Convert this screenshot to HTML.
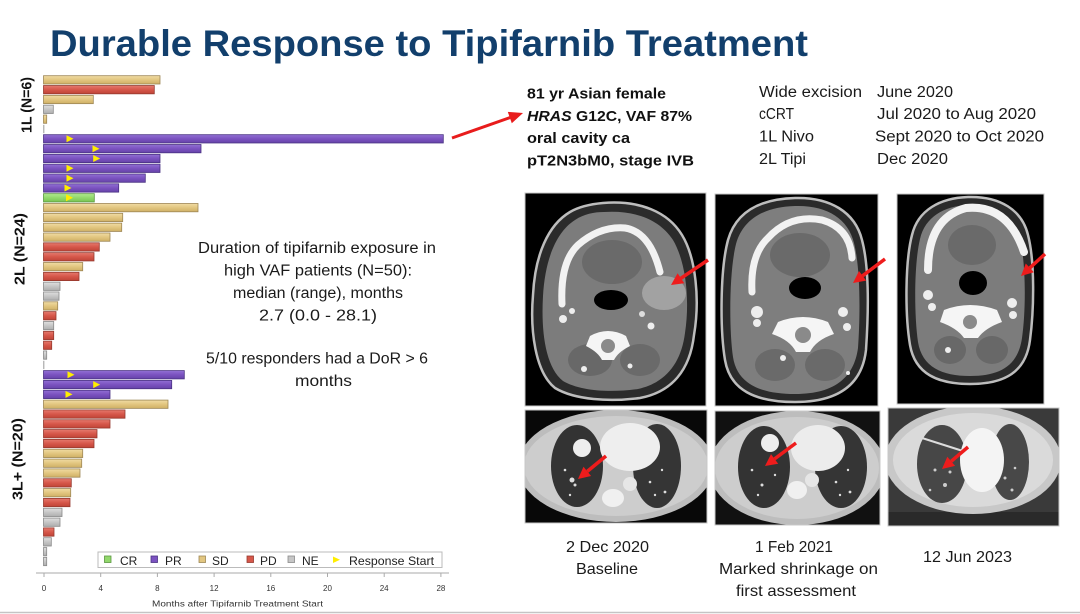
<!DOCTYPE html>
<html><head><meta charset="utf-8">
<style>
html,body{margin:0;padding:0;background:#fff;}
body{width:1080px;height:614px;overflow:hidden;}
svg{display:block;font-family:"Liberation Sans",Arial,sans-serif;}
.sd{fill:url(#gsd);stroke:#9e8756;stroke-width:0.8}
.pd{fill:url(#gpd);stroke:#963a2f;stroke-width:0.8}
.pr{fill:url(#gpr);stroke:#4a3283;stroke-width:0.8}
.ne{fill:url(#gne);stroke:#8a8a8a;stroke-width:0.8}
.cr{fill:url(#gcr);stroke:#5b9640;stroke-width:0.8}
.tri{fill:#ffee00}
.ax{font-size:8px;fill:#333}
.mid{font-size:15.5px;fill:#1a1a1a}
.cap{font-size:16px;fill:#1a1a1a}
</style></head>
<body>
<svg width="1080" height="614" viewBox="0 0 1080 614" xmlns="http://www.w3.org/2000/svg">
<defs>
<linearGradient id="gsd" x1="0" y1="0" x2="0" y2="1"><stop offset="0" stop-color="#f0dca4"/><stop offset="0.5" stop-color="#e2c680"/><stop offset="1" stop-color="#cfb065"/></linearGradient>
<linearGradient id="gpd" x1="0" y1="0" x2="0" y2="1"><stop offset="0" stop-color="#e57a6e"/><stop offset="0.5" stop-color="#d6574a"/><stop offset="1" stop-color="#bf4437"/></linearGradient>
<linearGradient id="gpr" x1="0" y1="0" x2="0" y2="1"><stop offset="0" stop-color="#9270d4"/><stop offset="0.5" stop-color="#7b52c0"/><stop offset="1" stop-color="#6643a9"/></linearGradient>
<linearGradient id="gne" x1="0" y1="0" x2="0" y2="1"><stop offset="0" stop-color="#e0e0e0"/><stop offset="0.5" stop-color="#c6c6c6"/><stop offset="1" stop-color="#aeaeae"/></linearGradient>
<linearGradient id="gcr" x1="0" y1="0" x2="0" y2="1"><stop offset="0" stop-color="#b0ea8e"/><stop offset="0.5" stop-color="#92d86c"/><stop offset="1" stop-color="#78c452"/></linearGradient>
<clipPath id="ch1"><rect x="525" y="193" width="181" height="213"/></clipPath>
<clipPath id="ch2"><rect x="715" y="194" width="163" height="212"/></clipPath>
<clipPath id="ch3"><rect x="897" y="194" width="147" height="210"/></clipPath>
<clipPath id="cl1"><rect x="525" y="410" width="182" height="113"/></clipPath>
<clipPath id="cl2"><rect x="715" y="411" width="165" height="114"/></clipPath>
<clipPath id="cl3"><rect x="888" y="408" width="171" height="118"/></clipPath>
</defs>

<!-- Title -->
<text x="50" y="56" font-size="37" font-weight="bold" fill="#123f6c" textLength="758" lengthAdjust="spacingAndGlyphs">Durable Response to Tipifarnib Treatment</text>

<!-- Group labels -->
<text transform="translate(27,105) rotate(-90)" text-anchor="middle" dominant-baseline="central" font-size="15" font-weight="bold" fill="#111" textLength="56" lengthAdjust="spacingAndGlyphs">1L (N=6)</text>
<text transform="translate(20,249) rotate(-90)" text-anchor="middle" dominant-baseline="central" font-size="15" font-weight="bold" fill="#111" textLength="72" lengthAdjust="spacingAndGlyphs">2L (N=24)</text>
<text transform="translate(18,459) rotate(-90)" text-anchor="middle" dominant-baseline="central" font-size="15" font-weight="bold" fill="#111" textLength="82" lengthAdjust="spacingAndGlyphs">3L+ (N=20)</text>

<!-- Bars -->
<rect class="sd" x="43.5" y="75.7" width="116.5" height="8.3"/>
<rect class="pd" x="43.5" y="85.53" width="110.8" height="8.3"/>
<rect class="sd" x="43.5" y="95.36" width="49.8" height="8.3"/>
<rect class="ne" x="43.5" y="105.19" width="9.8" height="8.3"/>
<rect class="sd" x="43.5" y="115.02" width="3.2" height="8.3"/>
<line x1="43.8" y1="124.85" x2="43.8" y2="133.15" stroke="#999" stroke-width="1"/>
<rect class="pr" x="43.5" y="134.68" width="399.8" height="8.3"/>
<rect class="pr" x="43.5" y="144.51" width="157.5" height="8.3"/>
<rect class="pr" x="43.5" y="154.34" width="116.5" height="8.3"/>
<rect class="pr" x="43.5" y="164.17" width="116.5" height="8.3"/>
<rect class="pr" x="43.5" y="174.0" width="101.8" height="8.3"/>
<rect class="pr" x="43.5" y="183.83" width="75.2" height="8.3"/>
<rect class="cr" x="43.5" y="193.66" width="50.8" height="8.3"/>
<rect class="sd" x="43.5" y="203.49" width="154.5" height="8.3"/>
<rect class="sd" x="43.5" y="213.32" width="79.2" height="8.3"/>
<rect class="sd" x="43.5" y="223.15" width="78.2" height="8.3"/>
<rect class="sd" x="43.5" y="232.98" width="66.5" height="8.3"/>
<rect class="pd" x="43.5" y="242.81" width="55.8" height="8.3"/>
<rect class="pd" x="43.5" y="252.64" width="50.5" height="8.3"/>
<rect class="sd" x="43.5" y="262.47" width="39.2" height="8.3"/>
<rect class="pd" x="43.5" y="272.3" width="35.5" height="8.3"/>
<rect class="ne" x="43.5" y="282.13" width="16.5" height="8.3"/>
<rect class="ne" x="43.5" y="291.96" width="15.5" height="8.3"/>
<rect class="sd" x="43.5" y="301.79" width="14.2" height="8.3"/>
<rect class="pd" x="43.5" y="311.62" width="12.5" height="8.3"/>
<rect class="ne" x="43.5" y="321.45" width="10.2" height="8.3"/>
<rect class="pd" x="43.5" y="331.28" width="10.2" height="8.3"/>
<rect class="pd" x="43.5" y="341.11" width="8.2" height="8.3"/>
<rect class="ne" x="43.5" y="350.94" width="3.2" height="8.3"/>
<line x1="43.8" y1="360.77" x2="43.8" y2="369.07" stroke="#999" stroke-width="1"/>
<rect class="pr" x="43.5" y="370.6" width="140.8" height="8.3"/>
<rect class="pr" x="43.5" y="380.43" width="128.2" height="8.3"/>
<rect class="pr" x="43.5" y="390.26" width="66.5" height="8.3"/>
<rect class="sd" x="43.5" y="400.09" width="124.5" height="8.3"/>
<rect class="pd" x="43.5" y="409.92" width="81.5" height="8.3"/>
<rect class="pd" x="43.5" y="419.75" width="66.5" height="8.3"/>
<rect class="pd" x="43.5" y="429.58" width="53.5" height="8.3"/>
<rect class="pd" x="43.5" y="439.41" width="50.5" height="8.3"/>
<rect class="sd" x="43.5" y="449.24" width="39.2" height="8.3"/>
<rect class="sd" x="43.5" y="459.07" width="38.2" height="8.3"/>
<rect class="sd" x="43.5" y="468.9" width="36.5" height="8.3"/>
<rect class="pd" x="43.5" y="478.73" width="27.8" height="8.3"/>
<rect class="sd" x="43.5" y="488.56" width="27.2" height="8.3"/>
<rect class="pd" x="43.5" y="498.39" width="26.5" height="8.3"/>
<rect class="ne" x="43.5" y="508.22" width="18.5" height="8.3"/>
<rect class="ne" x="43.5" y="518.05" width="16.5" height="8.3"/>
<rect class="pd" x="43.5" y="527.88" width="10.5" height="8.3"/>
<rect class="ne" x="43.5" y="537.71" width="7.8" height="8.3"/>
<rect class="ne" x="43.5" y="547.54" width="3.2" height="8.3"/>
<rect class="ne" x="43.5" y="557.37" width="3.2" height="8.3"/>

<!-- Response start triangles -->
<polygon class="tri" points="66.5,135.3 73.5,138.8 66.5,142.3"/>
<polygon class="tri" points="92.5,145.2 99.5,148.7 92.5,152.2"/>
<polygon class="tri" points="93.2,155.0 100.2,158.5 93.2,162.0"/>
<polygon class="tri" points="66.5,164.8 73.5,168.3 66.5,171.8"/>
<polygon class="tri" points="66.5,174.7 73.5,178.2 66.5,181.7"/>
<polygon class="tri" points="64.5,184.5 71.5,188.0 64.5,191.5"/>
<polygon class="tri" points="66.0,194.3 73.0,197.8 66.0,201.3"/>
<polygon class="tri" points="67.5,371.3 74.5,374.8 67.5,378.3"/>
<polygon class="tri" points="93.2,381.1 100.2,384.6 93.2,388.1"/>
<polygon class="tri" points="65.5,390.9 72.5,394.4 65.5,397.9"/>

<!-- Legend -->
<rect x="98" y="552" width="344" height="15.5" fill="#fff" stroke="#bbb" stroke-width="1"/>
<rect x="104.5" y="556" width="6.5" height="6.5" fill="#92d86c" stroke="#5b9640" stroke-width="0.8"/>
<text x="120" y="565" font-size="12" fill="#222">CR</text>
<rect x="151" y="556" width="6.5" height="6.5" fill="#7b52c0" stroke="#4a3283" stroke-width="0.8"/>
<text x="165" y="565" font-size="12" fill="#222">PR</text>
<rect x="199" y="556" width="6.5" height="6.5" fill="#e2c680" stroke="#9e8756" stroke-width="0.8"/>
<text x="212" y="565" font-size="12" fill="#222">SD</text>
<rect x="247" y="556" width="6.5" height="6.5" fill="#d6574a" stroke="#963a2f" stroke-width="0.8"/>
<text x="260" y="565" font-size="12" fill="#222">PD</text>
<rect x="288" y="556" width="6.5" height="6.5" fill="#c6c6c6" stroke="#8a8a8a" stroke-width="0.8"/>
<text x="302" y="565" font-size="12" fill="#222">NE</text>
<polygon class="tri" points="333,556.5 340,559.8 333,563"/>
<text x="349" y="565" font-size="12" fill="#222" textLength="85" lengthAdjust="spacingAndGlyphs">Response Start</text>

<!-- X axis -->
<line x1="36" y1="573" x2="449" y2="573" stroke="#aaa" stroke-width="1"/>
<g stroke="#aaa" stroke-width="1">
<line x1="44" y1="573" x2="44" y2="577"/>
<line x1="100.7" y1="573" x2="100.7" y2="577"/>
<line x1="157.4" y1="573" x2="157.4" y2="577"/>
<line x1="214.1" y1="573" x2="214.1" y2="577"/>
<line x1="270.8" y1="573" x2="270.8" y2="577"/>
<line x1="327.5" y1="573" x2="327.5" y2="577"/>
<line x1="384.2" y1="573" x2="384.2" y2="577"/>
<line x1="440.9" y1="573" x2="440.9" y2="577"/>
</g>
<g class="ax" text-anchor="middle">
<text x="44" y="591">0</text>
<text x="100.7" y="591">4</text>
<text x="157.4" y="591">8</text>
<text x="214.1" y="591">12</text>
<text x="270.8" y="591">16</text>
<text x="327.5" y="591">20</text>
<text x="384.2" y="591">24</text>
<text x="440.9" y="591">28</text>
</g>
<text x="237.5" y="606.5" font-size="8.5" fill="#333" text-anchor="middle" textLength="171" lengthAdjust="spacingAndGlyphs">Months after Tipifarnib Treatment Start</text>

<!-- Middle text -->
<text class="mid" x="317" y="253" text-anchor="middle" textLength="238" lengthAdjust="spacingAndGlyphs">Duration of tipifarnib exposure in</text>
<text class="mid" x="318" y="275.5" text-anchor="middle" textLength="188" lengthAdjust="spacingAndGlyphs">high VAF patients (N=50):</text>
<text class="mid" x="318" y="298" text-anchor="middle" textLength="170" lengthAdjust="spacingAndGlyphs">median (range), months</text>
<text class="mid" x="318" y="320.5" text-anchor="middle" textLength="118" lengthAdjust="spacingAndGlyphs">2.7 (0.0 - 28.1)</text>
<text class="mid" x="317" y="363.5" text-anchor="middle" textLength="222" lengthAdjust="spacingAndGlyphs">5/10 responders had a DoR &gt; 6</text>
<text class="mid" x="323.5" y="386" text-anchor="middle" textLength="57" lengthAdjust="spacingAndGlyphs">months</text>

<!-- Red arrow from chart -->
<line x1="452" y1="138" x2="510" y2="117.6" stroke="#e81c1c" stroke-width="3"/>
<polygon points="523,113 511.8,123.3 507.8,111.9" fill="#e81c1c"/>

<!-- Patient info -->
<g font-size="15" font-weight="bold" fill="#111">
<text x="527" y="98.5" textLength="139" lengthAdjust="spacingAndGlyphs">81 yr Asian female</text>
<text x="527" y="121" textLength="165" lengthAdjust="spacingAndGlyphs"><tspan font-style="italic">HRAS</tspan> G12C, VAF 87%</text>
<text x="527" y="143" textLength="103" lengthAdjust="spacingAndGlyphs">oral cavity ca</text>
<text x="527" y="165.5" textLength="167" lengthAdjust="spacingAndGlyphs">pT2N3bM0, stage IVB</text>
</g>
<g font-size="15.5" fill="#1a1a1a">
<text x="759" y="97" textLength="103" lengthAdjust="spacingAndGlyphs">Wide excision</text>
<text x="759" y="119" textLength="35" lengthAdjust="spacingAndGlyphs">cCRT</text>
<text x="759" y="141.5" textLength="55" lengthAdjust="spacingAndGlyphs">1L Nivo</text>
<text x="759" y="164" textLength="47" lengthAdjust="spacingAndGlyphs">2L Tipi</text>
<text x="877" y="97" textLength="76" lengthAdjust="spacingAndGlyphs">June 2020</text>
<text x="877" y="119" textLength="159" lengthAdjust="spacingAndGlyphs">Jul 2020 to Aug 2020</text>
<text x="875" y="141.5" textLength="169" lengthAdjust="spacingAndGlyphs">Sept 2020 to Oct 2020</text>
<text x="877" y="164" textLength="71" lengthAdjust="spacingAndGlyphs">Dec 2020</text>
</g>

<!-- CT H1 -->
<g clip-path="url(#ch1)">
<rect x="525" y="193" width="181" height="213" fill="#000"/>
<path d="M603,203 C640,200 668,212 682,235 C696,258 700,300 694,335 C690,370 672,392 640,398 C610,402 575,400 555,388 C535,372 530,330 533,295 C535,255 548,225 570,212 C580,206 592,204 603,203 Z" fill="#2b2b2b" stroke="#bdbdbd" stroke-width="2.5"/>
<path d="M604,212 C636,210 660,220 673,240 C686,262 690,300 685,333 C681,364 665,383 638,389 C610,393 580,391 563,381 C545,367 541,330 543,296 C545,260 556,232 575,220 C584,214 594,212 604,212 Z" fill="#7c7c7c"/>
<ellipse cx="612" cy="262" rx="30" ry="22" fill="#6a6a6a"/>
<ellipse cx="664" cy="293" rx="22" ry="17" fill="#a2a2a2"/>
<ellipse cx="590" cy="360" rx="22" ry="16" fill="#686868"/>
<ellipse cx="640" cy="360" rx="20" ry="16" fill="#6a6a6a"/>
<path d="M562,304 Q560,262 578,245 Q600,226 625,228 Q650,232 660,272" fill="none" stroke="#f2f2f2" stroke-width="7" stroke-linecap="round"/>
<ellipse cx="611" cy="300" rx="17" ry="10" fill="#000"/>
<path d="M590,336 Q608,326 626,336 L630,346 Q618,352 614,360 L602,360 Q598,352 586,346 Z" fill="#f5f5f5"/>
<circle cx="608" cy="346" r="7" fill="#8a8a8a"/>
<circle cx="563" cy="319" r="4" fill="#eee"/>
<circle cx="572" cy="311" r="3" fill="#eee"/>
<circle cx="651" cy="326" r="3.5" fill="#eee"/>
<circle cx="642" cy="314" r="3" fill="#ddd"/>
<circle cx="584" cy="369" r="3" fill="#eee"/>
<circle cx="630" cy="366" r="2.5" fill="#eee"/>
</g>
<rect x="525" y="193" width="181" height="213" fill="none" stroke="#c8c8c8" stroke-width="1"/>

<!-- CT H2 -->
<g clip-path="url(#ch2)">
<rect x="715" y="194" width="163" height="212" fill="#000"/>
<path d="M795,198 C830,197 855,212 862,240 C870,270 868,320 866,350 C862,385 838,402 795,402 C755,402 730,390 725,360 C720,330 720,270 728,240 C736,212 760,199 795,198 Z" fill="#2b2b2b" stroke="#bdbdbd" stroke-width="2.5"/>
<path d="M795,206 C826,205 848,218 854,243 C861,271 860,320 858,348 C854,378 834,394 795,394 C759,394 737,383 733,357 C729,330 729,272 736,244 C743,219 764,207 795,206 Z" fill="#7e7e7e"/>
<ellipse cx="800" cy="255" rx="30" ry="22" fill="#6a6a6a"/>
<ellipse cx="775" cy="365" rx="20" ry="16" fill="#6a6a6a"/>
<ellipse cx="825" cy="365" rx="20" ry="16" fill="#6a6a6a"/>
<path d="M752,292 Q750,255 768,238 Q790,214 822,220 Q850,228 852,258" fill="none" stroke="#f2f2f2" stroke-width="7" stroke-linecap="round"/>
<ellipse cx="805" cy="288" rx="16" ry="11" fill="#000"/>
<path d="M778,322 Q803,312 828,322 L834,334 Q816,340 810,352 L796,352 Q790,340 772,334 Z" fill="#f5f5f5"/>
<circle cx="803" cy="335" r="8" fill="#8a8a8a"/>
<circle cx="757" cy="312" r="6" fill="#eee"/>
<circle cx="757" cy="323" r="4" fill="#eee"/>
<circle cx="843" cy="312" r="5" fill="#eee"/>
<circle cx="847" cy="327" r="4" fill="#eee"/>
<circle cx="783" cy="358" r="3" fill="#eee"/>
<circle cx="848" cy="373" r="2" fill="#eee"/>
</g>
<rect x="715" y="194" width="163" height="212" fill="none" stroke="#c8c8c8" stroke-width="1"/>

<!-- CT H3 -->
<g clip-path="url(#ch3)">
<rect x="897" y="194" width="147" height="210" fill="#000"/>
<path d="M968,197 C1000,196 1022,210 1028,235 C1035,262 1034,310 1030,340 C1026,372 1005,384 970,384 C938,384 915,374 910,345 C905,315 905,262 912,235 C918,210 940,198 968,197 Z" fill="#2b2b2b" stroke="#bdbdbd" stroke-width="2.5"/>
<path d="M968,205 C996,204 1015,217 1020,239 C1026,264 1026,310 1022,338 C1018,366 1000,376 970,376 C942,376 922,367 918,342 C914,314 914,264 920,239 C925,217 944,206 968,205 Z" fill="#7c7c7c"/>
<ellipse cx="972" cy="245" rx="24" ry="20" fill="#6a6a6a"/>
<ellipse cx="950" cy="350" rx="16" ry="14" fill="#686868"/>
<ellipse cx="992" cy="350" rx="16" ry="14" fill="#686868"/>
<path d="M928,270 Q928,218 966,208 Q1008,204 1024,252" fill="none" stroke="#f2f2f2" stroke-width="8" stroke-linecap="round"/>
<ellipse cx="973" cy="283" rx="14" ry="12" fill="#000"/>
<path d="M944,310 Q970,300 997,310 L1002,322 Q985,328 978,338 L964,338 Q957,328 940,322 Z" fill="#f5f5f5"/>
<circle cx="970" cy="322" r="7" fill="#8a8a8a"/>
<circle cx="928" cy="295" r="5" fill="#eee"/>
<circle cx="932" cy="307" r="4" fill="#eee"/>
<circle cx="1012" cy="303" r="5" fill="#eee"/>
<circle cx="1013" cy="315" r="4" fill="#eee"/>
<circle cx="948" cy="350" r="3" fill="#eee"/>
</g>
<rect x="897" y="194" width="147" height="210" fill="none" stroke="#c8c8c8" stroke-width="1"/>

<!-- CT L1 -->
<g clip-path="url(#cl1)">
<rect x="525" y="410" width="182" height="113" fill="#080808"/>
<ellipse cx="616" cy="466" rx="98" ry="56" fill="#bdbdbd"/>
<ellipse cx="616" cy="466" rx="92" ry="50" fill="#cdcdcd"/>
<ellipse cx="577" cy="466" rx="26" ry="41" fill="#333"/>
<ellipse cx="657" cy="466" rx="24" ry="42" fill="#353535"/>
<ellipse cx="630" cy="447" rx="30" ry="24" fill="#eeeeee"/>
<circle cx="582" cy="448" r="9" fill="#eeeeee"/>
<ellipse cx="613" cy="498" rx="11" ry="9" fill="#f0f0f0"/>
<circle cx="630" cy="484" r="7" fill="#e6e6e6"/>
<g fill="#ddd"><circle cx="565" cy="470" r="1.3"/><circle cx="575" cy="485" r="1.5"/><circle cx="588" cy="475" r="1.2"/><circle cx="570" cy="495" r="1.2"/><circle cx="572" cy="480" r="2.5"/><circle cx="650" cy="482" r="1.3"/><circle cx="662" cy="470" r="1.2"/><circle cx="665" cy="492" r="1.4"/><circle cx="655" cy="495" r="1.2"/></g>
</g>
<rect x="525" y="410" width="182" height="113" fill="none" stroke="#c8c8c8" stroke-width="1"/>

<!-- CT L2 -->
<g clip-path="url(#cl2)">
<rect x="715" y="411" width="165" height="114" fill="#111"/>
<ellipse cx="797" cy="468" rx="88" ry="57" fill="#bdbdbd"/>
<ellipse cx="797" cy="468" rx="82" ry="51" fill="#cdcdcd"/>
<ellipse cx="764" cy="467" rx="26" ry="41" fill="#333"/>
<ellipse cx="841" cy="467" rx="26" ry="41" fill="#353535"/>
<ellipse cx="818" cy="448" rx="27" ry="23" fill="#ececec"/>
<circle cx="770" cy="443" r="9" fill="#eeeeee"/>
<ellipse cx="797" cy="490" rx="10" ry="9" fill="#f0f0f0"/>
<circle cx="812" cy="480" r="7" fill="#e6e6e6"/>
<g fill="#ddd"><circle cx="752" cy="470" r="1.3"/><circle cx="762" cy="485" r="1.5"/><circle cx="775" cy="475" r="1.2"/><circle cx="758" cy="495" r="1.2"/><circle cx="836" cy="482" r="1.3"/><circle cx="848" cy="470" r="1.2"/><circle cx="850" cy="492" r="1.4"/><circle cx="840" cy="495" r="1.2"/></g>
</g>
<rect x="715" y="411" width="165" height="114" fill="none" stroke="#c8c8c8" stroke-width="1"/>

<!-- CT L3 -->
<g clip-path="url(#cl3)">
<rect x="888" y="408" width="171" height="118" fill="#3a3a3a"/>
<rect x="888" y="512" width="171" height="14" fill="#2a2a2a"/>
<ellipse cx="973" cy="460" rx="88" ry="54" fill="#c8c8c8"/>
<ellipse cx="973" cy="460" rx="80" ry="47" fill="#dadada"/>
<ellipse cx="942" cy="464" rx="25" ry="39" fill="#474747"/>
<ellipse cx="1010" cy="462" rx="19" ry="38" fill="#484848"/>
<line x1="922" y1="438" x2="966" y2="452" stroke="#ddd" stroke-width="2"/>
<ellipse cx="982" cy="460" rx="22" ry="32" fill="#f4f4f4"/>
<g fill="#ccc"><circle cx="935" cy="470" r="1.5"/><circle cx="945" cy="485" r="2"/><circle cx="950" cy="472" r="1.5"/><circle cx="930" cy="490" r="1.3"/><circle cx="1005" cy="478" r="1.5"/><circle cx="1015" cy="468" r="1.3"/><circle cx="1012" cy="490" r="1.5"/></g>
</g>
<rect x="888" y="408" width="171" height="118" fill="none" stroke="#c8c8c8" stroke-width="1"/>

<!-- Red arrows on images -->
<g fill="#ee1c1c" stroke="none">
<line x1="708" y1="260" x2="680.9" y2="278.3" stroke="#ee1c1c" stroke-width="3.5"/>
<polygon points="671,285 684.3,283.3 677.6,273.3"/>
<line x1="885" y1="259" x2="862.6" y2="275.8" stroke="#ee1c1c" stroke-width="3.5"/>
<polygon points="853,283 866.2,280.6 859.0,271.0"/>
<line x1="1045" y1="254" x2="1029.8" y2="267.9" stroke="#ee1c1c" stroke-width="3.5"/>
<polygon points="1021,276 1033.9,272.3 1025.8,263.5"/>
<line x1="606" y1="456" x2="587.3" y2="471.4" stroke="#ee1c1c" stroke-width="3.5"/>
<polygon points="578,479 591.1,476.0 583.5,466.8"/>
<line x1="796" y1="443" x2="774.6" y2="458.9" stroke="#ee1c1c" stroke-width="3.5"/>
<polygon points="765,466 778.2,463.7 771.0,454.1"/>
<line x1="968" y1="447" x2="951.2" y2="461.3" stroke="#ee1c1c" stroke-width="3.5"/>
<polygon points="942,469 955.1,465.9 947.3,456.7"/>
</g>

<!-- Captions -->
<text class="cap" x="607.5" y="552" text-anchor="middle" textLength="83" lengthAdjust="spacingAndGlyphs">2 Dec 2020</text>
<text class="cap" x="607" y="574" text-anchor="middle" textLength="62" lengthAdjust="spacingAndGlyphs">Baseline</text>
<text class="cap" x="794" y="552" text-anchor="middle" textLength="78" lengthAdjust="spacingAndGlyphs">1 Feb 2021</text>
<text class="cap" x="798.5" y="574" text-anchor="middle" textLength="159" lengthAdjust="spacingAndGlyphs">Marked shrinkage on</text>
<text class="cap" x="796" y="596" text-anchor="middle" textLength="120" lengthAdjust="spacingAndGlyphs">first assessment</text>
<text class="cap" x="967.5" y="562" text-anchor="middle" textLength="89" lengthAdjust="spacingAndGlyphs">12 Jun 2023</text>

<!-- bottom rule -->
<line x1="0" y1="612.5" x2="1080" y2="612.5" stroke="#c4c4c4" stroke-width="1.5"/>
</svg>
</body></html>
